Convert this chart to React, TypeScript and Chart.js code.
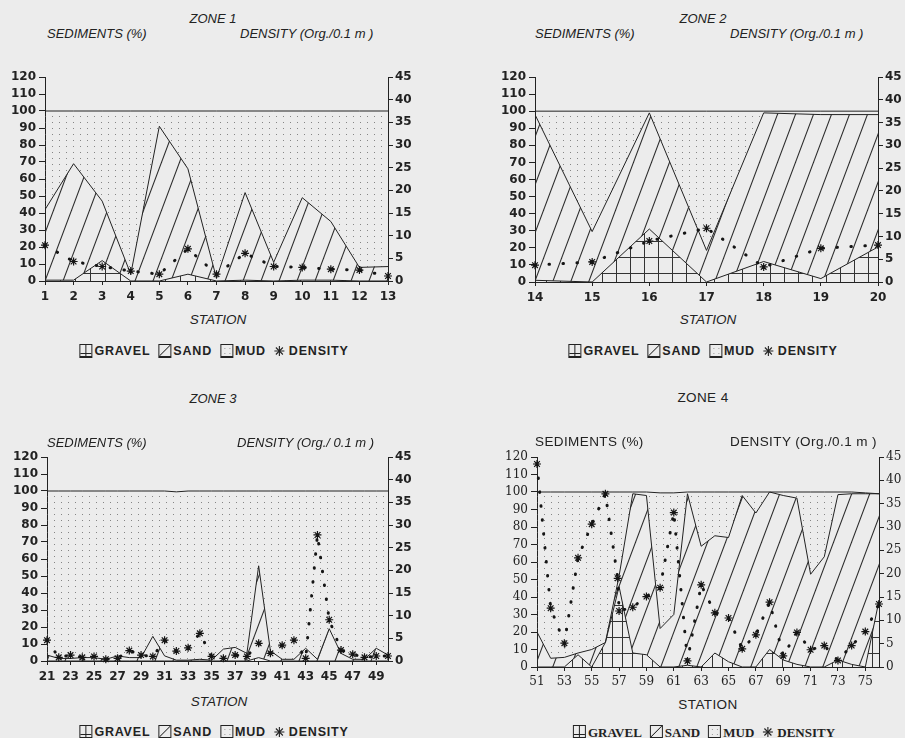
import React, { useEffect, useRef } from 'react';
import { Chart, registerables } from 'chart.js';

Chart.register(...registerables);

// ---------- tick labels ----------
const sedimentTicks = [0, 10, 20, 30, 40, 50, 60, 70, 80, 90, 100, 110, 120];
const densityTicks = [0, 5, 10, 15, 20, 25, 30, 35, 40, 45];

// ---------- ZONE 1 ----------
const zone1Stations = [1, 2, 3, 4, 5, 6, 7, 8, 9, 10, 11, 12, 13];
const zone1TickLabels = [1, 2, 3, 4, 5, 6, 7, 8, 9, 10, 11, 12, 13];
const zone1Gravel = [0.5, 0.5, 12, 0, 0, 4, 0, 0.5, 0, 0.5, 0.5, 0, 0];
const zone1Sand = [41.5, 68.5, 35, 4, 91, 62, 1.5, 51.5, 11, 48.5, 34.5, 8, 8.5];
const zone1Mud = [58, 31, 53, 96, 9, 34, 98.5, 48, 89, 51, 65, 92, 91.5];
const zone1Density = [7.9, 4.3, 3.2, 2.2, 1.5, 7.1, 1.5, 6.1, 3.2, 3.0, 2.6, 2.4, 1.1];

// ---------- ZONE 2 ----------
const zone2Stations = [14, 15, 16, 17, 18, 19, 20];
const zone2TickLabels = [14, 15, 16, 17, 18, 19, 20];
const zone2Gravel = [1, 0, 31, 0, 12, 2, 20.5];
const zone2Sand = [97, 29.5, 68, 18.5, 87, 96, 77.5];
const zone2Mud = [2, 70.5, 1, 81.5, 1, 2, 2];
const zone2Density = [3.7, 4.4, 9.0, 11.8, 3.3, 7.4, 8.1];

// ---------- ZONE 3 ----------
const zone3Stations = [21, 22, 23, 24, 25, 26, 27, 28, 29, 30, 31, 32, 33, 34, 35, 36, 37, 38, 39, 40, 41, 42, 43, 44, 45, 46, 47, 48, 49, 50];
const zone3TickLabels = [21, 23, 25, 27, 29, 31, 33, 35, 37, 39, 41, 43, 45, 47, 49];
const zone3Gravel = [0, 0, 0, 0, 0, 0, 0, 0, 0, 0, 0, 0, 0, 0, 0, 0, 0, 0, 2, 0, 0, 0, 0, 0, 0, 0, 0, 0, 0, 0];
const zone3Sand = [3.5, 1.5, 1.5, 2, 2, 1, 3, 2, 2, 14.5, 3, 0.5, 0.5, 1, 0.5, 7, 8, 4.5, 54, 6, 1, 1, 7.5, 1, 19, 4.5, 1, 1, 7.5, 3.5];
const zone3Mud = [96.5, 98.5, 98.5, 98, 98, 99, 97, 98, 98, 85.5, 97, 99, 99.5, 99, 99.5, 93, 92, 95.5, 44, 94, 99, 99, 92.5, 99, 81, 95.5, 99, 99, 92.5, 96.5];
const zone3Density = [4.6, 0.8, 1.3, 0.8, 1.0, 0.4, 0.6, 2.3, 1.3, 1.0, 4.6, 2.2, 2.9, 6.1, 1.0, 0.6, 1.3, 1.0, 3.9, 1.7, 3.5, 4.6, 0.6, 27.8, 9.1, 2.4, 1.5, 0.8, 1.1, 1.1];

// ---------- ZONE 4 ----------
const zone4Stations = [51, 52, 53, 54, 55, 56, 57, 58, 59, 60, 61, 62, 63, 64, 65, 66, 67, 68, 69, 70, 71, 72, 73, 74, 75, 76];
const zone4TickLabels = [51, 53, 55, 57, 59, 61, 63, 65, 67, 69, 71, 73, 75];
const zone4Gravel = [0, 0, 0, 7, 0, 14, 46, 8, 7, 0, 0, 1, 0, 8, 3, 0, 0, 10, 4, 1.5, 0, 0, 4, 1.5, 0, 38];
const zone4Sand = [20, 5, 5.5, 1, 10, 0, 6, 91, 91, 22, 30, 98, 69, 67, 71, 98, 88, 90, 94, 95, 53, 63, 94.5, 97.5, 99, 61];
const zone4Mud = [80, 95, 94.5, 92, 90, 86, 48, 1, 2, 77.5, 69.5, 1, 31, 25, 26, 2, 12, 0, 2, 3.5, 47, 37, 1.5, 1, 0.5, 0];
const zone4DensityStations = [51, 52, 53, 54, 55, 56, 56.9, 57, 58, 59, 60, 61, 62, 63, 64, 65, 66, 67, 68, 69, 70, 71, 72, 73, 74, 75, 76];
const zone4Density = [43.5, 12.6, 5.1, 23.4, 30.6, 37.1, 19, 12, 12.8, 15.1, 17, 33.1, 1.3, 17.6, 11.6, 10.5, 3.9, 6.9, 13.9, 2.4, 7.4, 3.7, 4.6, 1.4, 4.6, 7.6, 13.5];

// ---------- styling / layout ----------
const BG = '#ececec';
const INK = '#222';
const PAD_TOP = 12;
const LEFT_W = 45;
const RIGHT_W = 40;
const X_H = 28;

type Panel = {
  title: string;
  stations: number[];
  gravel: number[];
  sand: number[];
  mud: number[];
  densityStations: number[];
  density: number[];
  xTicks: number[];
  leftHead: string;
  rightHead: string;
  geo: { L: number; R: number; T: number; B: number };
  titleX: number;
  titleY: number;
  headY: number;
  headLeftX: number;
  headRightX: number;
  stationX: number;
  stationY: number;
  legendX: number;
  legendY: number;
  serif: boolean;
  gridW: number;
};

const panels: Panel[] = [
  {
    title: 'ZONE 1', stations: zone1Stations, gravel: zone1Gravel, sand: zone1Sand, mud: zone1Mud,
    densityStations: zone1Stations, density: zone1Density, xTicks: zone1TickLabels,
    leftHead: 'SEDIMENTS (%)', rightHead: 'DENSITY (Org./0.1 m )',
    geo: { L: 45, R: 388, T: 77, B: 281 },
    titleX: 213, titleY: 18, headY: 33, headLeftX: 47, headRightX: 240,
    stationX: 218, stationY: 320, legendX: 214, legendY: 351, serif: false, gridW: 15,
  },
  {
    title: 'ZONE 2', stations: zone2Stations, gravel: zone2Gravel, sand: zone2Sand, mud: zone2Mud,
    densityStations: zone2Stations, density: zone2Density, xTicks: zone2TickLabels,
    leftHead: 'SEDIMENTS (%)', rightHead: 'DENSITY (Org./0.1 m )',
    geo: { L: 535, R: 878, T: 77, B: 282 },
    titleX: 703, titleY: 18, headY: 33, headLeftX: 535, headRightX: 730,
    stationX: 708, stationY: 320, legendX: 703, legendY: 351, serif: false, gridW: 14,
  },
  {
    title: 'ZONE 3', stations: zone3Stations, gravel: zone3Gravel, sand: zone3Sand, mud: zone3Mud,
    densityStations: zone3Stations, density: zone3Density, xTicks: zone3TickLabels,
    leftHead: 'SEDIMENTS (%)', rightHead: 'DENSITY (Org./ 0.1 m )',
    geo: { L: 47, R: 388, T: 457, B: 661 },
    titleX: 213, titleY: 398, headY: 442, headLeftX: 47, headRightX: 237,
    stationX: 219, stationY: 702, legendX: 214, legendY: 732, serif: false, gridW: 14,
  },
  {
    title: 'ZONE 4', stations: zone4Stations, gravel: zone4Gravel, sand: zone4Sand, mud: zone4Mud,
    densityStations: zone4DensityStations, density: zone4Density, xTicks: zone4TickLabels,
    leftHead: 'SEDIMENTS (%)', rightHead: 'DENSITY (Org./0.1 m )',
    geo: { L: 537, R: 879, T: 457, B: 667 },
    titleX: 703, titleY: 398, headY: 442, headLeftX: 535, headRightX: 730,
    stationX: 708, stationY: 705, legendX: 704, legendY: 732, serif: true, gridW: 10,
  },
];

function tile(w: number, h: number, draw: (g: CanvasRenderingContext2D) => void) {
  const c = document.createElement('canvas');
  c.width = w;
  c.height = h;
  const g = c.getContext('2d')!;
  draw(g);
  return c;
}

function makePatterns(ctx: CanvasRenderingContext2D, gridW: number) {
  const hw = 18;
  const hh = 48;
  const hatch = tile(hw, hh, (g) => {
    g.strokeStyle = '#2a2a2a';
    g.lineWidth = 1.1;
    for (const dx of [-hw, 0, hw]) {
      g.beginPath();
      g.moveTo(dx - hw, 2 * hh);
      g.lineTo(dx + 2 * hw, -hh);
      g.stroke();
    }
  });
  const dots = tile(7, 6, (g) => {
    g.fillStyle = 'rgba(90,90,90,0.7)';
    g.fillRect(3, 3, 1, 1);
  });
  const grid = tile(gridW, 16, (g) => {
    g.fillStyle = '#333';
    g.fillRect(0, 0, 1, 16);
    g.fillRect(0, 0, gridW, 1);
  });
  return {
    sand: ctx.createPattern(hatch, 'repeat')!,
    mud: ctx.createPattern(dots, 'repeat')!,
    gravel: ctx.createPattern(grid, 'repeat')!,
  };
}

function PanelChart({ p }: { p: Panel }) {
  const ref = useRef<HTMLCanvasElement | null>(null);
  const { L, R, T, B } = p.geo;
  const width = LEFT_W + (R - L) + RIGHT_W;
  const height = PAD_TOP + (B - T) + X_H;

  useEffect(() => {
    const canvas = ref.current!;
    const ctx = canvas.getContext('2d')!;
    const pats = makePatterns(ctx, p.gridW);
    const sandTop = p.gravel.map((g, i) => g + p.sand[i]);
    const mudTop = sandTop.map((s, i) => s + p.mud[i]);
    const tickFont = p.serif
      ? { family: '"DejaVu Serif", "Liberation Serif", serif', size: 12, weight: 'normal' as const }
      : { family: '"DejaVu Sans", "Liberation Sans", sans-serif', size: 12, weight: 'bold' as const };
    const setTicks = (vals: number[]) => (scale: any) => {
      scale.ticks = vals.map((v) => ({ value: v }));
    };
    const lineBase = {
      borderColor: INK,
      borderWidth: 1,
      pointRadius: 0,
      tension: 0,
      yAxisID: 'y',
    };
    const chart = new Chart(canvas, {
      type: 'line',
      data: {
        datasets: [
          {
            ...lineBase,
            label: 'GRAVEL',
            data: p.stations.map((x, i) => ({ x, y: p.gravel[i] })),
            backgroundColor: pats.gravel,
            fill: 'origin',
          },
          {
            ...lineBase,
            label: 'SAND',
            data: p.stations.map((x, i) => ({ x, y: sandTop[i] })),
            backgroundColor: pats.sand,
            fill: '-1',
          },
          {
            ...lineBase,
            label: 'MUD',
            data: p.stations.map((x, i) => ({ x, y: mudTop[i] })),
            backgroundColor: pats.mud,
            fill: '-1',
          },
          {
            label: 'DENSITY',
            yAxisID: 'y2',
            order: -1,
            data: p.densityStations.map((x, i) => ({ x, y: p.density[i] })),
            borderColor: '#151515',
            borderWidth: 3,
            borderDash: [0.5, 13.5],
            borderCapStyle: 'round',
            fill: false,
            tension: 0,
            pointStyle: 'star',
            pointRadius: 4,
            pointBorderWidth: 1.2,
            pointBorderColor: '#151515',
            pointBackgroundColor: '#151515',
            clip: 8,
          } as any,
        ],
      },
      options: {
        animation: false,
        responsive: false,
        events: [],
        layout: { padding: { top: PAD_TOP, left: 0, right: 0, bottom: 0 }, autoPadding: false } as any,
        plugins: { legend: { display: false }, tooltip: { enabled: false }, title: { display: false } },
        scales: {
          x: {
            type: 'linear',
            min: p.stations[0],
            max: p.stations[p.stations.length - 1],
            afterBuildTicks: setTicks(p.xTicks),
            afterFit: (s: any) => { s.height = X_H; },
            grid: { drawOnChartArea: false, tickLength: 4, color: INK },
            border: { color: INK, width: 1 },
            ticks: {
              font: tickFont, color: INK, padding: p.serif ? 4 : 5, autoSkip: false, maxRotation: 0,
              callback: (v: any) => String(v),
            },
          },
          y: {
            position: 'left',
            min: 0,
            max: 120,
            afterBuildTicks: setTicks(sedimentTicks),
            afterFit: (s: any) => { s.width = LEFT_W; },
            grid: { drawOnChartArea: false, tickLength: 6, color: INK },
            border: { color: INK, width: 1 },
            ticks: { font: tickFont, color: INK, padding: 3, autoSkip: false, callback: (v: any) => String(v) },
          },
          y2: {
            position: 'right',
            min: 0,
            max: 45,
            afterBuildTicks: setTicks(densityTicks),
            afterFit: (s: any) => { s.width = RIGHT_W; },
            grid: { drawOnChartArea: false, tickLength: 5, color: INK },
            border: { color: INK, width: 1 },
            ticks: { font: tickFont, color: INK, padding: 2, autoSkip: false, callback: (v: any) => String(v) },
          },
        },
      } as any,
    });
    return () => chart.destroy();
  }, []);

  return (
    <canvas
      ref={ref}
      width={width}
      height={height}
      style={{ position: 'absolute', left: L - LEFT_W, top: T - PAD_TOP, width, height, display: 'block' }}
    />
  );
}

function Swatch({ kind }: { kind: 'gravel' | 'sand' | 'mud' }) {
  let bg = 'transparent';
  if (kind === 'gravel') {
    bg = 'linear-gradient(#222,#222) 50% 0/1px 100% no-repeat, linear-gradient(#222,#222) 0 75%/100% 1px no-repeat';
  } else if (kind === 'sand') {
    bg = 'linear-gradient(to bottom right, transparent calc(50% - 0.8px), #222 50%, transparent calc(50% + 0.8px))';
  } else {
    bg = 'radial-gradient(circle, #999 0.5px, transparent 0.8px) 1px 1px/5px 5px';
  }
  return (
    <span
      style={{
        display: 'inline-block',
        width: 11,
        height: 11,
        border: '1px solid #222',
        borderBottomWidth: 2,
        borderLeftWidth: 1.5,
        background: bg,
        marginRight: 2,
        boxSizing: 'content-box',
      }}
    />
  );
}

function Star() {
  return (
    <svg width="12" height="12" viewBox="-6 -6 12 12" style={{ marginRight: 3 }}>
      <g stroke="#222" strokeWidth="1.1">
        <line x1="-5" y1="0" x2="5" y2="0" />
        <line x1="0" y1="-5" x2="0" y2="5" />
        <line x1="-3.5" y1="-3.5" x2="3.5" y2="3.5" />
        <line x1="-3.5" y1="3.5" x2="3.5" y2="-3.5" />
      </g>
    </svg>
  );
}

function Texts({ p }: { p: Panel }) {
  const headFont = p.serif
    ? { fontFamily: '"Liberation Sans", Arial, sans-serif', fontStyle: 'normal', fontSize: 13.5, letterSpacing: 0.4 }
    : { fontFamily: '"Liberation Sans", Arial, sans-serif', fontStyle: 'italic', fontSize: 13, letterSpacing: 0 };
  const legendFont = p.serif
    ? { fontFamily: '"Liberation Serif", "Times New Roman", serif', fontWeight: 700, fontSize: 13, letterSpacing: 0 }
    : { fontFamily: '"Liberation Sans", Arial, sans-serif', fontWeight: 700, fontSize: 12.5, letterSpacing: 0.8 };
  const base: React.CSSProperties = { position: 'absolute', whiteSpace: 'nowrap', lineHeight: 1, color: INK };
  const itemGap = 8;
  return (
    <>
      <div style={{ ...base, ...headFont, left: p.titleX, top: p.titleY, transform: 'translate(-50%,-50%)' }}>{p.title}</div>
      <div style={{ ...base, ...headFont, left: p.headLeftX, top: p.headY, transform: 'translateY(-50%)' }}>{p.leftHead}</div>
      <div style={{ ...base, ...headFont, left: p.headRightX, top: p.headY, transform: 'translateY(-50%)' }}>{p.rightHead}</div>
      <div style={{ ...base, ...headFont, fontSize: 13.5, left: p.stationX, top: p.stationY, transform: 'translate(-50%,-50%)' }}>STATION</div>
      <div
        style={{
          ...base,
          ...legendFont,
          left: p.legendX,
          top: p.legendY,
          transform: 'translate(-50%,-50%)',
          display: 'flex',
          alignItems: 'center',
        }}
      >
        <Swatch kind="gravel" />
        <span style={{ marginRight: itemGap }}>GRAVEL</span>
        <Swatch kind="sand" />
        <span style={{ marginRight: itemGap }}>SAND</span>
        <Swatch kind="mud" />
        <span style={{ marginRight: itemGap }}>MUD</span>
        <Star />
        <span>DENSITY</span>
      </div>
    </>
  );
}

export default function App() {
  return (
    <div
      style={{
        position: 'absolute',
        left: 0,
        top: 0,
        width: 905,
        height: 738,
        background: BG,
        overflow: 'hidden',
      }}
    >
      {panels.map((p) => (
        <React.Fragment key={p.title}>
          <PanelChart p={p} />
          <Texts p={p} />
        </React.Fragment>
      ))}
    </div>
  );
}
